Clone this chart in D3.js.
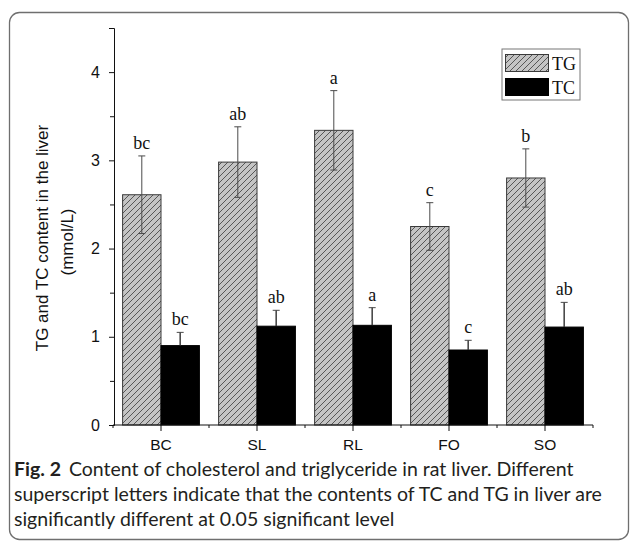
<!DOCTYPE html>
<html>
<head>
<meta charset="utf-8">
<script src="https://cdn.jsdelivr.net/npm/d3@7"></script>
<style>
  body { margin: 0; background: #fff; }
  svg { display: block; }
</style>
</head>
<body>
<svg id="chart" width="630" height="542"></svg>
<script>
// data
const categories = ['BC', 'SL', 'RL', 'FO', 'SO'];
const series = ['TG', 'TC'];
const tgMean = [2.61, 2.98, 3.34, 2.25, 2.80];
const tgErr = [0.44, 0.40, 0.45, 0.27, 0.33];
const tcMean = [0.90, 1.12, 1.13, 0.85, 1.11];
const tcErr = [0.15, 0.18, 0.20, 0.11, 0.28];
const tgLetters = ['bc', 'ab', 'a', 'c', 'b'];
const tcLetters = ['bc', 'ab', 'a', 'c', 'ab'];
const yTicks = [0, 1, 2, 3, 4];
const yMinorTicks = [0.5, 1.5, 2.5, 3.5, 4.5];
const captionLines = [
  ['Fig. 2', 'Content of cholesterol and triglyceride in rat liver. Different'],
  [null, 'superscript letters indicate that the contents of TC and TG in liver are'],
  [null, 'significantly different at 0.05 significant level']
];

const svg = d3.select('#chart');
const sans = 'Liberation Sans, Arial, sans-serif';
const serif = 'Liberation Serif, Times New Roman, serif';

// card frame
svg.append('rect')
  .attr('x', 9.5).attr('y', 12.5).attr('width', 619).attr('height', 527)
  .attr('rx', 10).attr('fill', '#fff').attr('stroke', '#6f6f6f').attr('stroke-width', 1.3);

// hatch pattern for TG
const defs = svg.append('defs');
const pat = defs.append('pattern').attr('id', 'hatch')
  .attr('patternUnits', 'userSpaceOnUse').attr('width', 6).attr('height', 6);
pat.append('rect').attr('width', 6).attr('height', 6).attr('fill', '#c4c4c4');
pat.append('path').attr('d', 'M0,6 L6,0 M-1,1 L1,-1 M5,7 L7,5')
  .attr('stroke', '#3a3a3a').attr('stroke-width', 0.8);

// scales
const x = d3.scaleBand().domain(categories).range([113, 593])
  .paddingInner(0.2).paddingOuter(0.1);
const xs = d3.scaleBand().domain(series).range([0, x.bandwidth()]);
const y = d3.scaleLinear().domain([0, 4.5]).range([425, 28]);

const rows = categories.map((c, i) => ([
  { cat: c, key: 'TG', v: tgMean[i], e: tgErr[i], lab: tgLetters[i] },
  { cat: c, key: 'TC', v: tcMean[i], e: tcErr[i], lab: tcLetters[i] }
])).flat();

// bars
const g = svg.append('g');
g.selectAll('rect.bar').data(rows).enter().append('rect')
  .attr('class', 'bar')
  .attr('x', d => x(d.cat) + xs(d.key))
  .attr('y', d => y(d.v))
  .attr('width', xs.bandwidth())
  .attr('height', d => y(0) - y(d.v))
  .attr('fill', d => d.key === 'TG' ? 'url(#hatch)' : '#000')
  .attr('stroke', d => d.key === 'TG' ? '#3a3a3a' : '#000')
  .attr('stroke-width', 1);

// error bars (lower half of TC hides in the black bar)
const eb = g.selectAll('g.err').data(rows).enter().append('g')
  .attr('class', 'err')
  .attr('transform', d => `translate(${x(d.cat) + xs(d.key) + xs.bandwidth() / 2},0)`)
  .attr('stroke', d => d.key === 'TG' ? '#4a4a4a' : '#000').attr('stroke-width', 1);
eb.append('line').attr('y1', d => y(d.v - d.e)).attr('y2', d => y(d.v + d.e));
eb.append('line').attr('x1', -3.5).attr('x2', 3.5).attr('y1', d => y(d.v + d.e)).attr('y2', d => y(d.v + d.e))
  .attr('stroke', '#4a4a4a');
eb.append('line').attr('x1', -3.5).attr('x2', 3.5).attr('y1', d => y(d.v - d.e)).attr('y2', d => y(d.v - d.e));
eb.filter(d => d.key === 'TC').append('line')
  .attr('y1', d => y(d.v + d.e)).attr('y2', d => y(d.v)).attr('stroke', '#4a4a4a');

// significance letters
g.selectAll('text.sig').data(rows).enter().append('text')
  .attr('class', 'sig')
  .attr('x', d => x(d.cat) + xs(d.key) + xs.bandwidth() / 2)
  .attr('y', d => y(d.v + d.e) - 7)
  .attr('text-anchor', 'middle')
  .attr('font-family', serif).attr('font-size', 18).attr('fill', '#111')
  .text(d => d.lab);

// y axis
const gy = svg.append('g').attr('transform', 'translate(114,0)');
gy.call(d3.axisLeft(y).tickValues(yTicks).tickSize(5).tickPadding(9).tickFormat(d3.format('d')));
gy.append('g').call(d3.axisLeft(y).tickValues(yMinorTicks).tickSize(4).tickFormat(''))
  .select('.domain').remove();
gy.selectAll('text').attr('font-family', sans).attr('font-size', 16).attr('fill', '#111');
gy.selectAll('path, line').attr('stroke', '#111');

// x axis
const gx = svg.append('g').attr('transform', `translate(0,${y(0)})`);
gx.call(d3.axisBottom(x).tickSize(6).tickPadding(8).tickSizeOuter(0));
gx.selectAll('text').attr('font-family', sans).attr('font-size', 15.5).attr('fill', '#111');
const edges = categories.map(c => x(c) - x.step() * x.paddingInner() / 2)
  .concat([x(categories[categories.length - 1]) + x.bandwidth() + x.step() * x.paddingInner() / 2]);
gx.selectAll('line.minor').data(edges).enter().append('line')
  .attr('class', 'minor').attr('x1', d => d).attr('x2', d => d).attr('y1', 0).attr('y2', 3);
gx.select('.domain').attr('d', `M${edges[0]},0H${edges[edges.length - 1]}`);
gx.selectAll('path, line').attr('stroke', '#111');

// y title
svg.append('text').attr('transform', 'translate(48,238) rotate(-90)')
  .attr('text-anchor', 'middle').attr('font-family', sans).attr('font-size', 17).attr('fill', '#111')
  .text('TG and TC content in the liver');
svg.append('text').attr('transform', 'translate(73,242) rotate(-90)')
  .attr('text-anchor', 'middle').attr('font-family', sans).attr('font-size', 17).attr('fill', '#111')
  .text('(mmol/L)');

// legend
const lg = svg.append('g').attr('transform', 'translate(502,49)');
lg.append('rect').attr('width', 78).attr('height', 51)
  .attr('fill', '#fff').attr('stroke', '#777').attr('stroke-width', 1);
series.forEach((s, i) => {
  lg.append('rect').attr('x', 3.5).attr('y', 5.5 + i * 24).attr('width', 43).attr('height', 17)
    .attr('fill', s === 'TG' ? 'url(#hatch)' : '#000').attr('stroke', s === 'TG' ? '#3a3a3a' : '#000');
  lg.append('text').attr('x', 50).attr('y', 21 + i * 24)
    .attr('font-family', serif).attr('font-size', 18).attr('fill', '#111').text(s);
});

// caption: one font size for all lines, fitted so line 2 spans the card
const capFont = 'Lato, Noto Sans, sans-serif';
const caps = captionLines.map((ln, i) => {
  const t = svg.append('text').attr('x', 14).attr('y', 476 + i * 25)
    .attr('font-family', capFont).attr('font-size', 18).attr('fill', '#231f20');
  if (ln[0]) t.append('tspan').attr('font-weight', 'bold').text(ln[0]);
  t.append('tspan').attr('dx', ln[0] ? 8 : 0).text(ln[1]);
  return t;
});
const fit = 18 * 588 / caps[1].node().getComputedTextLength();
caps.forEach(t => t.attr('font-size', fit));
</script>
</body>
</html>
